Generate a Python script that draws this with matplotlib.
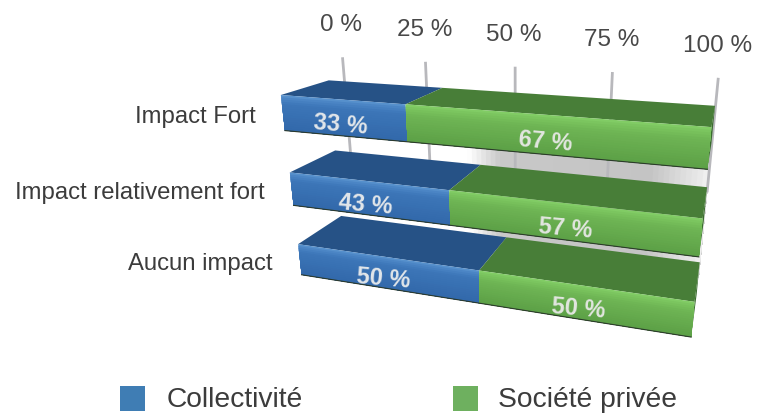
import numpy as np
import matplotlib
matplotlib.use("Agg")
import matplotlib.pyplot as plt
from matplotlib.patches import Rectangle

plt.rcParams['font.family'] = ['Liberation Sans', 'DejaVu Sans']

# the data
categories = ["Impact Fort", "Impact relativement fort", "Aucun impact"]
collectivite = [33, 43, 50]
privee = [67, 57, 50]
ticks = [0, 25, 50, 75, 100]
legend_labels = ["Collectivité", "Société privée"]

BAR_H = 0.45      # bar height, 1 = distance between two rows
WALL_Y = 1.37     # depth of the plane holding the grid posts

# calibration of the fake 3D camera: world (value, depth, level) -> pixel
world = []
pix = []
corners = [[(282, 96), (711, 128), (328, 81), (715, 107), (284, 131), (708, 170)],
           [(291, 173), (702, 220), (335, 152), (707, 188), (293, 208), (700, 258)],
           [(298, 245), (694, 303), (342, 217), (700, 263), (301, 275), (691, 338)]]
for i, row in enumerate(corners):
    world += [(0, 0, -i), (100, 0, -i), (0, 1, -i), (100, 1, -i),
              (0, 0, -i - BAR_H), (100, 0, -i - BAR_H)]
    pix += row

def fit_camera(world, pix):
    rows = []
    for (x, y, z), (u, v) in zip(world, pix):
        x = x / 100.
        u, v = u / 765., v / 765.
        rows.append([x, y, z, 1, 0, 0, 0, 0, -u*x, -u*y, -u*z, -u])
        rows.append([0, 0, 0, 0, x, y, z, 1, -v*x, -v*y, -v*z, -v])
    return np.linalg.svd(np.array(rows))[2][-1].reshape(3, 4)

cam = fit_camera(world, pix)

def proj(v, y, z):
    p = cam @ np.array([v / 100., y, z, 1.])
    return p[0] / p[2] * 765, p[1] / p[2] * 765

def quad(ax, pts, color, zorder):
    xy = [proj(*p) for p in pts]
    ax.fill([q[0] for q in xy], [q[1] for q in xy], facecolor=color, lw=0, zorder=zorder)

def mix(stops, f):
    pos = [s[0] for s in stops]
    return tuple(np.interp(f, pos, [s[1][c] for s in stops]) / 255. for c in range(3))

def draw_segment(ax, v0, v1, z, stops, top_col, zorder):
    quad(ax, [(v0, 0, z), (v1, 0, z), (v1, 1, z), (v0, 1, z)], top_col, zorder)
    # each strip runs to the bottom of the face and the next one paints over it, so no seams
    fr = np.linspace(0, 1, 17)
    zb = z - BAR_H
    for a, b in zip(fr[:-1], fr[1:]):
        za = z - a * BAR_H
        quad(ax, [(v0, 0, za), (v1, 0, za), (v1, 0, zb), (v0, 0, zb)],
             mix(stops, (a + b) / 2), zorder + 0.1)

blue_stops = [(0, (92, 150, 208)), (0.1, (74, 132, 196)), (0.25, (60, 118, 184)), (1, (50, 104, 170))]
green_stops = [(0, (132, 208, 104)), (0.1, (122, 196, 94)), (0.3, (110, 180, 84)), (1, (92, 160, 70))]
blue_top = (38 / 255., 82 / 255., 134 / 255.)
green_top = (72 / 255., 126 / 255., 56 / 255.)
side_col = (58 / 255., 108 / 255., 46 / 255.)

fig = plt.figure(figsize=(7.65, 4.14), dpi=100)
ax = fig.add_axes([0, 0, 1, 1])
ax.set_xlim(0, 765)
ax.set_ylim(414, 0)
ax.axis("off")

# gray wall seen through the gaps between rows
vals = np.linspace(20, 100, 60)
gray_pos = [20, 36, 45, 85, 97, 100]
gray_val = [255, 255, 200, 196, 232, 245]
for i in range(2):
    for a in vals[:-1]:
        g = np.interp(a, gray_pos, gray_val) / 255.
        quad(ax, [(a, WALL_Y, -0.4 - i), (100, WALL_Y, -0.4 - i),
                  (100, WALL_Y, -1.4 - i), (a, WALL_Y, -1.4 - i)], (g, g, g), 1)

# grid posts and their labels
for t in ticks:
    top = proj(t, WALL_Y, 0.26)
    bot = proj(t, WALL_Y, -1.2)
    ax.plot([top[0], bot[0]], [top[1], bot[1]], color="#b8b8bc", lw=2, zorder=2,
            solid_capstyle="butt")
    ax.text(top[0] - 1, top[1] - 33, "%d %%" % t, ha="center", va="center",
            fontsize=17.5, color="#484848", zorder=5)

# bars, top row first so lower rows stay in front
for i in range(len(categories)):
    z = -i
    zo = 3 + i
    end = collectivite[i] + privee[i]
    quad(ax, [(100, 0, z), (100, 1, z), (100, 1, z - BAR_H), (100, 0, z - BAR_H)], side_col, zo)
    draw_segment(ax, 0, collectivite[i], z, blue_stops, blue_top, zo)
    draw_segment(ax, collectivite[i], end, z, green_stops, green_top, zo)
    a = proj(0, 0, z - BAR_H)
    b = proj(100, 0, z - BAR_H)
    ax.plot([a[0], b[0]], [a[1], b[1]], color="#2c3a2c", lw=0.8, zorder=zo + 0.2)

    x0, y0 = proj(collectivite[i] / 2., 0, z - BAR_H * 0.66)
    ax.text(x0 - 3, y0, "%d %%" % collectivite[i], ha="center", va="center", fontsize=17,
            fontweight="bold", color="#e2e6ea", rotation=-5, zorder=10)
    x1, y1 = proj(collectivite[i] + privee[i] / 2., 0, z - BAR_H * 0.66)
    ax.text(x1 - 3, y1, "%d %%" % privee[i], ha="center", va="center", fontsize=17,
            fontweight="bold", color="#e2e6e0", rotation=-5, zorder=10)

    xl, yl = proj(0, 0, z - BAR_H / 2)
    ax.text(xl - 27.5, yl + 3, categories[i], ha="right", va="center", fontsize=17.2,
            color="#3c3c3c", zorder=5)

# legend
leg_x = [120, 453]
leg_gap = [47, 45]
leg_cols = ["#3f7db4", "#6eb05f"]
for x, g, c, lab in zip(leg_x, leg_gap, leg_cols, legend_labels):
    ax.add_patch(Rectangle((x, 387), 25, 25, facecolor=c, lw=0, zorder=5))
    ax.text(x + g, 400, lab, ha="left", va="center", fontsize=20.3, color="#3c3c3c", zorder=5)

fig.savefig("out.png", dpi=100)
